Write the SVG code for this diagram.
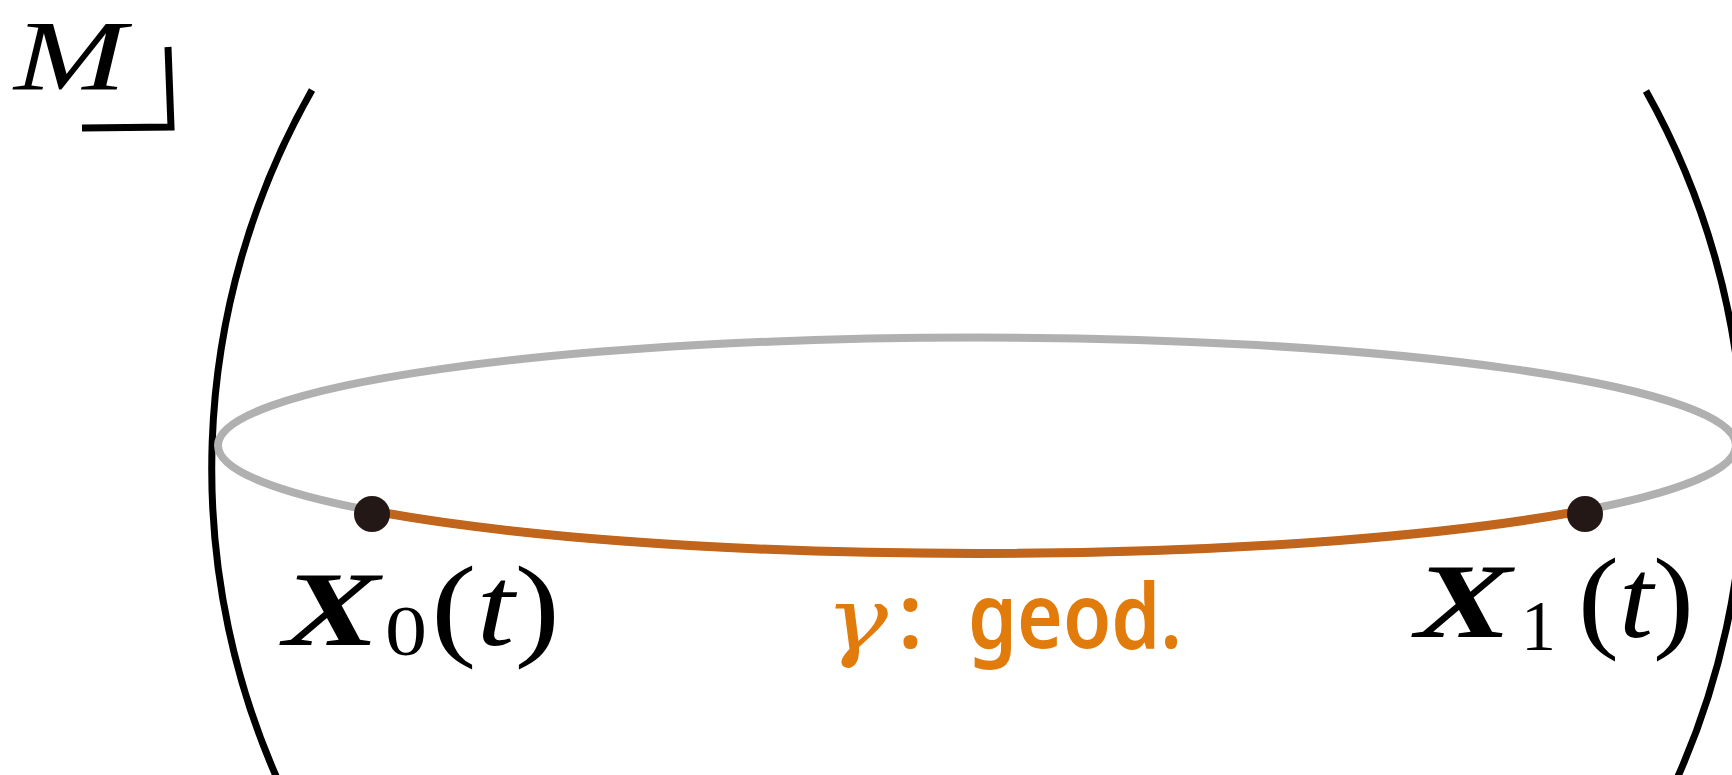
<svg xmlns="http://www.w3.org/2000/svg" width="1732" height="775" viewBox="0 0 1732 775">
<style>
.ball{fill:none;stroke:#000;stroke-width:7}
.math{font-family:"Liberation Serif","Times New Roman",serif;fill:#000}
.it{font-style:italic}
.bi{font-style:italic;font-weight:bold}
.orange{fill:#e07b0c}
.sans{font-family:"Noto Sans","Open Sans",sans-serif;font-weight:600}
.pt{fill:#231815}
</style>
<rect width="1732" height="775" fill="#fff"/>
<g id="manifold">
  <path class="ball" d="M312,90 A766,766 0 0 0 287,800"/>
  <path class="ball" d="M1646,91 A766,766 0 0 1 1667,800"/>
  <path d="M168,47 L171,127 L82,128" fill="none" stroke="#000" stroke-width="7"/>
  <text class="math it" x="14" y="89" font-size="100" textLength="112" lengthAdjust="spacingAndGlyphs">M</text>
</g>
<g id="ellipse">
  <ellipse cx="977" cy="445.5" rx="759" ry="108" fill="none" stroke="#b0b0b0" stroke-width="8"/>
</g>
<g id="connectors">
  <path d="M372,510.7 A759,108 0 0 0 1585,510.15" fill="none" stroke="#c1651c" stroke-width="9"/>
</g>
<g id="X0">
  <circle class="pt" cx="372" cy="514" r="18"/>
  <text class="math bi" x="283" y="645" font-size="106" textLength="97" lengthAdjust="spacingAndGlyphs">X</text>
  <text class="math" x="385" y="655" font-size="72" textLength="42" lengthAdjust="spacingAndGlyphs">0</text>
  <text class="math" x="431" y="645" font-size="114" textLength="129" lengthAdjust="spacingAndGlyphs">(<tspan class="it">t</tspan>)</text>
</g>
<g id="X1">
  <circle class="pt" cx="1585" cy="514" r="18"/>
  <text class="math bi" x="1415" y="637" font-size="106" textLength="97" lengthAdjust="spacingAndGlyphs">X</text>
  <text class="math" x="1521" y="650" font-size="72" textLength="35" lengthAdjust="spacingAndGlyphs">1</text>
  <text class="math" x="1578" y="637" font-size="114" textLength="116" lengthAdjust="spacingAndGlyphs">(<tspan class="it">t</tspan>)</text>
</g>
<g id="geodesic-label">
  <text x="825" y="650" font-family="'DejaVu Serif',serif" font-style="italic" font-size="88" fill="#e07b0c" textLength="63" lengthAdjust="spacingAndGlyphs">γ</text>
  <text class="sans orange" x="898" y="648" font-size="90">:</text>
  <text class="sans orange" x="968" y="648" font-size="90" textLength="214" lengthAdjust="spacingAndGlyphs">geod.</text>
</g>
</svg>
